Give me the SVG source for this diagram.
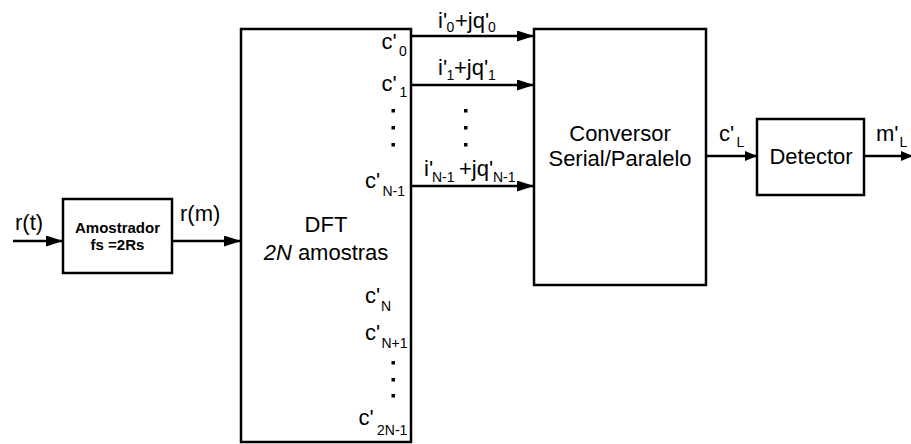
<svg xmlns="http://www.w3.org/2000/svg" width="911" height="444" viewBox="0 0 911 444">
<defs>
<style>
text{font-family:"Liberation Sans",Arial,sans-serif;font-size:22px;fill:#000}
.sub{font-size:14px}
.b{font-weight:bold;font-size:15px}
.box{fill:#fff;stroke:#000;stroke-width:2.5}
.ln{fill:none;stroke:#000;stroke-width:2.5}
.dot{fill:#000}
</style>
<marker id="a" markerUnits="userSpaceOnUse" markerWidth="17" markerHeight="11" refX="17" refY="5.5" orient="auto"><path d="M0,0 L17,5.5 L0,11 z" fill="#000"/></marker>
<marker id="s" markerUnits="userSpaceOnUse" markerWidth="12" markerHeight="10" refX="12" refY="5" orient="auto"><path d="M0,0 L12,5 L0,10 z" fill="#000"/></marker>
</defs>
<rect width="911" height="444" fill="#fff"/>
<g id="connectors">
<line class="ln" x1="13" y1="241" x2="63" y2="241" marker-end="url(#a)"/>
<line class="ln" x1="172" y1="241" x2="241" y2="241" marker-end="url(#a)"/>
<line class="ln" x1="411" y1="36" x2="534" y2="36" marker-end="url(#a)"/>
<line class="ln" x1="411" y1="85" x2="534" y2="85" marker-end="url(#a)"/>
<line class="ln" x1="411" y1="186" x2="534" y2="186" marker-end="url(#a)"/>
<line class="ln" x1="706" y1="156" x2="757" y2="156" marker-end="url(#s)"/>
<line class="ln" x1="864" y1="156" x2="913" y2="156" marker-end="url(#s)"/>
</g>
<g id="amostrador">
<rect class="box" x="63" y="199" width="109" height="74"/>
<text class="b" x="117.5" y="233" text-anchor="middle">Amostrador</text>
<text class="b" x="117.5" y="250" text-anchor="middle">fs =2Rs</text>
</g>
<g id="dft">
<rect class="box" x="241" y="29" width="170" height="413"/>
<text x="326" y="232" text-anchor="middle">DFT</text>
<text x="326" y="260" text-anchor="middle"><tspan font-style="italic">2N</tspan> amostras</text>
<text x="381.5" y="49">c'<tspan class="sub" x="399" y="55.5">0</tspan></text>
<text x="381.5" y="91">c'<tspan class="sub" x="399.5" y="97">1</tspan></text>
<rect class="dot" x="391.5" y="109" width="3.5" height="3.5"/>
<rect class="dot" x="391.5" y="126" width="3.5" height="3.5"/>
<rect class="dot" x="391.5" y="143" width="3.5" height="3.5"/>
<text x="365" y="188">c'<tspan class="sub" x="382.5" y="196">N-1</tspan></text>
<text x="365" y="303">c'<tspan class="sub" x="381" y="311">N</tspan></text>
<text x="365" y="340">c'<tspan class="sub" x="381.5" y="348">N+1</tspan></text>
<rect class="dot" x="391.5" y="361" width="3.5" height="3.5"/>
<rect class="dot" x="391.5" y="378" width="3.5" height="3.5"/>
<rect class="dot" x="391.5" y="394" width="3.5" height="3.5"/>
<text x="358.5" y="425">c'<tspan class="sub" x="377" y="435">2N-1</tspan></text>
</g>
<g id="conversor">
<rect class="box" x="534" y="29" width="172" height="256"/>
<text x="620" y="140.5" text-anchor="middle">Conversor</text>
<text x="620" y="165.5" text-anchor="middle">Serial/Paralelo</text>
</g>
<g id="detector">
<rect class="box" x="757" y="119" width="107" height="76"/>
<text x="811" y="164" text-anchor="middle">Detector</text>
</g>
<g id="labels">
<text x="15" y="230">r(t)</text>
<text x="180" y="221">r(m)</text>
<text x="438" y="28">i'<tspan class="sub" x="446.5" y="32">0</tspan><tspan x="455" y="28">+jq'</tspan><tspan class="sub" x="488" y="32">0</tspan></text>
<text x="438" y="75">i'<tspan class="sub" x="446.5" y="80">1</tspan><tspan x="454" y="75">+jq'</tspan><tspan class="sub" x="488" y="80">1</tspan></text>
<rect class="dot" x="464" y="109" width="3.5" height="3.5"/>
<rect class="dot" x="464" y="126" width="3.5" height="3.5"/>
<rect class="dot" x="464" y="143" width="3.5" height="3.5"/>
<text x="424" y="176">i'<tspan class="sub" x="432" y="182">N-1</tspan><tspan x="459" y="176">+jq'</tspan><tspan class="sub" x="493" y="182">N-1</tspan></text>
<text x="719" y="141">c'<tspan class="sub" x="736.5" y="147">L</tspan></text>
<text x="876" y="141">m'<tspan class="sub" x="899.5" y="147">L</tspan></text>
</g>
</svg>
